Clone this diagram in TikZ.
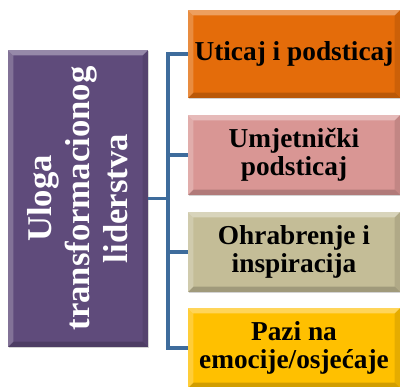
\documentclass[tikz,border=0pt]{standalone}
\usepackage{fontspec}
\setmainfont{Liberation Serif}
\usetikzlibrary{shadows}
\definecolor{lilac}{HTML}{5F4B7B}
\definecolor{linkblue}{HTML}{3E6C9C}
\definecolor{orng}{HTML}{E46C0A}
\definecolor{rose}{HTML}{D99694}
\definecolor{sand}{HTML}{C4BD97}
\definecolor{gold}{HTML}{FFC000}
\tikzset{
  bevel/.style={path picture={
    \fill[white,opacity=0.35] (path picture bounding box.north west) -- (path picture bounding box.north east)
      -- ([xshift=-4pt,yshift=-4pt]path picture bounding box.north east) -- ([xshift=4pt,yshift=-4pt]path picture bounding box.north west) -- cycle;
    \fill[white,opacity=0.22] (path picture bounding box.north west) -- ([xshift=4pt,yshift=-4pt]path picture bounding box.north west)
      -- ([xshift=4pt,yshift=4pt]path picture bounding box.south west) -- (path picture bounding box.south west) -- cycle;
    \fill[black,opacity=0.18] (path picture bounding box.south west) -- ([xshift=4pt,yshift=4pt]path picture bounding box.south west)
      -- ([xshift=-4pt,yshift=4pt]path picture bounding box.south east) -- (path picture bounding box.south east) -- cycle;
    \fill[black,opacity=0.10] (path picture bounding box.north east) -- ([xshift=-4pt,yshift=-4pt]path picture bounding box.north east)
      -- ([xshift=-4pt,yshift=4pt]path picture bounding box.south east) -- (path picture bounding box.south east) -- cycle;
  }}
}
\begin{document}
\begin{tikzpicture}[x=0.75pt, y=-0.75pt,
	main node/.style={rectangle,fill=lilac,text=white,bevel,inner sep=0pt,align=center,
		font=\fontsize{20.5}{21}\selectfont\bfseries,
		drop shadow={opacity=0.3,shadow xshift=1pt,shadow yshift=-1pt}},
	leaf node/.style={main node,text=black,minimum width=159pt},
	link/.style={draw=linkblue,line width=2.4pt}]
	\useasboundingbox (0,0) rectangle (400,386);
	
	\node[main node,minimum width=105pt,minimum height=222.75pt] (0) at (78,198.5) {};
	\node[rotate=90,text=white,align=center,font=\fontsize{26}{28.5}\selectfont\bfseries] (0t) at (0) {Uloga\\transformacionog\\liderstva};
	\node[leaf node,fill=orng,minimum height=66pt] (1) at (294,54) {Uticaj i podsticaj};
	\node[leaf node,fill=rose,minimum height=60pt] (2) at (294,155) {Umjetnički\\podsticaj};
	\node[leaf node,fill=sand,minimum height=60pt] (3) at (294,252) {Ohrabrenje i\\inspiracija};
	\node[leaf node,fill=gold,minimum height=60pt] (4) at (294,348) {Pazi na\\emocije/osjećaje};
	
	\coordinate (t) at (168,198.5);
	\draw[link] (0.east) -- (t);
	\foreach \n in {1,...,4}
	\draw[link] (t) |- (\n.west);
\end{tikzpicture}
\end{document}
